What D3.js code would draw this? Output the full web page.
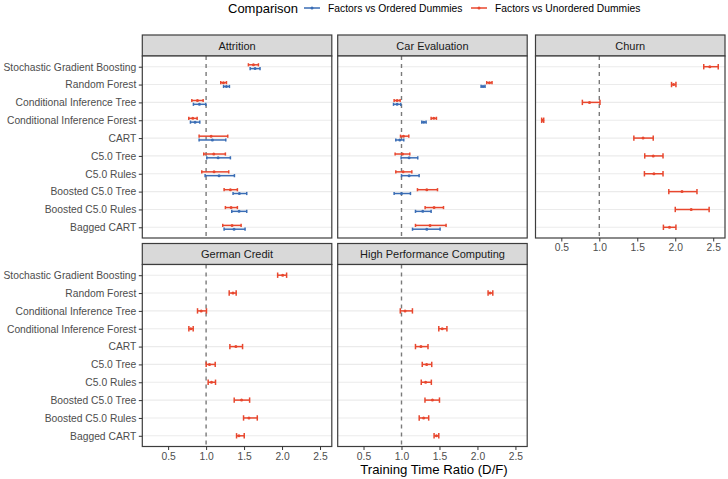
<!DOCTYPE html>
<html>
<head>
<meta charset="utf-8">
<script src="https://cdn.jsdelivr.net/npm/d3@7"></script>
<style>
  body { margin: 0; background: #fff; }
  svg { font-family: "Liberation Sans", Arial, Helvetica, sans-serif; }
</style>
</head>
<body>
<svg id="chart" width="728" height="479"></svg>
<script>
// models, top to bottom
const models = ["Stochastic Gradient Boosting", "Random Forest", "Conditional Inference Tree",
  "Conditional Inference Forest", "CART", "C5.0 Tree", "C5.0 Rules", "Boosted C5.0 Tree",
  "Boosted C5.0 Rules", "Bagged CART"];
const datasets = ["Attrition", "Car Evaluation", "Churn", "German Credit", "High Performance Computing"];
const comparisons = ["Factors vs Ordered Dummies", "Factors vs Unordered Dummies"];
const xTicks = [0.5, 1.0, 1.5, 2.0, 2.5];

// [lower, estimate, upper] per model; null = not available
const attritionOrdered = [[1.58,1.645,1.71],[1.23,1.268,1.307],[0.833,0.912,0.996],[0.794,0.855,0.917],[0.908,1.083,1.259],
  [1.009,1.158,1.32],[0.987,1.171,1.373],[1.355,1.438,1.535],[1.338,1.434,1.535],[1.237,1.368,1.513]];
const attritionUnordered = [[1.557,1.623,1.689],[1.193,1.228,1.268],[0.812,0.886,0.961],[0.772,0.825,0.882],[0.908,1.066,1.285],
  [0.969,1.101,1.254],[0.943,1.105,1.298],[1.237,1.32,1.412],[1.254,1.329,1.412],[1.219,1.342,1.461]];
const carOrdered = [null,[2.048,2.074,2.1],[0.895,0.942,0.991],[1.267,1.293,1.324],[0.925,0.978,1.03],
  [0.995,1.1,1.214],[1.0,1.1,1.232],[0.903,1.0,1.118],[1.184,1.28,1.39],[1.145,1.333,1.508]];
const carUnordered = [null,[2.122,2.158,2.192],[0.903,0.942,0.982],[1.39,1.425,1.46],[0.987,1.026,1.096],
  [0.916,1.013,1.109],[0.925,1.021,1.136],[1.21,1.333,1.474],[1.311,1.429,1.553],[1.184,1.376,1.587]];
const churnUnordered = [[2.375,2.455,2.566],[1.951,1.978,2.009],[0.777,0.871,1.009],[0.241,0.254,0.268],[1.455,1.576,1.71],
  [1.598,1.71,1.839],[1.594,1.719,1.839],[1.915,2.089,2.286],[2.0,2.21,2.446],[1.844,1.924,2.009]];
const germanUnordered = [[1.942,2.008,2.06],[1.304,1.353,1.396],[0.887,0.935,1.005],[0.773,0.799,0.83],[1.313,1.392,1.48],
  [1.001,1.045,1.12],[1.027,1.071,1.124],[1.37,1.467,1.573],[1.493,1.564,1.674],[1.401,1.432,1.502]];
const hpcUnordered = [null,[2.14,2.167,2.202],[0.984,1.047,1.144],[1.491,1.536,1.598],[1.184,1.256,1.349],
  [1.273,1.331,1.398],[1.26,1.318,1.393],[1.309,1.407,1.5],[1.233,1.291,1.358],[1.429,1.46,1.491]];

const seriesByDataset = {
  "Attrition": [attritionOrdered, attritionUnordered],
  "Car Evaluation": [carOrdered, carUnordered],
  "Churn": [null, churnUnordered],
  "German Credit": [null, germanUnordered],
  "High Performance Computing": [null, hpcUnordered]
};

const colors = d3.scaleOrdinal().domain(comparisons).range(["#3A6DB5", "#E8472E"]);

const svg = d3.select("#chart");
const panelW = 189.5, stripH = 21, panelH = 182;
const colX = [142.3, 337.7, 535.5];
const rowY = [35, 243.5];

const x = d3.scaleLinear().domain([0.16, 2.655]).range([0, panelW]);
const y = d3.scalePoint().domain(models).range([0, panelH]).padding(0.6);

datasets.forEach((name, i) => {
  const col = i < 3 ? i : i - 3;
  const row = i < 3 ? 0 : 1;
  const g = svg.append("g").attr("transform", `translate(${colX[col]},${rowY[row]})`);

  // strip
  g.append("rect").attr("width", panelW).attr("height", stripH)
    .attr("fill", "#D9D9D9").attr("stroke", "#3d3d3d").attr("stroke-width", 1.2);
  g.append("text").attr("x", panelW / 2).attr("y", stripH / 2 + 4)
    .attr("text-anchor", "middle").attr("font-size", 11).attr("fill", "#1a1a1a").text(name);

  const p = g.append("g").attr("transform", `translate(0,${stripH})`);
  p.append("rect").attr("width", panelW).attr("height", panelH).attr("fill", "#fff");

  // horizontal grid
  p.selectAll(".grid").data(models).join("line")
    .attr("x1", 0).attr("x2", panelW)
    .attr("y1", d => y(d)).attr("y2", d => y(d))
    .attr("stroke", "#EBEBEB").attr("stroke-width", 1.1);

  // reference line at 1
  p.append("line").attr("x1", x(1)).attr("x2", x(1)).attr("y1", 0).attr("y2", panelH)
    .attr("stroke", "#7a7a7a").attr("stroke-width", 1.4).attr("stroke-dasharray", "4,4");

  const series = seriesByDataset[name];
  const nSeries = series.filter(s => s).length;
  series.forEach((vals, si) => {
    if (!vals) return;
    const col = colors(comparisons[si]);
    const off = nSeries === 2 ? (si === 0 ? 1.9 : -1.9) : 0;
    const cap = nSeries === 2 ? 1.6 : 2.7;
    const pts = models.map((m, k) => ({m, v: vals[k]})).filter(d => d.v);
    const gg = p.append("g").selectAll("g").data(pts).join("g")
      .attr("transform", d => `translate(0,${y(d.m) + off})`);
    gg.append("line").attr("x1", d => x(d.v[0])).attr("x2", d => x(d.v[2]))
      .attr("stroke", col).attr("stroke-width", 1.5);
    gg.append("line").attr("x1", d => x(d.v[0])).attr("x2", d => x(d.v[0]))
      .attr("y1", -cap).attr("y2", cap).attr("stroke", col).attr("stroke-width", 1.5);
    gg.append("line").attr("x1", d => x(d.v[2])).attr("x2", d => x(d.v[2]))
      .attr("y1", -cap).attr("y2", cap).attr("stroke", col).attr("stroke-width", 1.5);
    gg.append("circle").attr("cx", d => x(d.v[1])).attr("r", 1.5).attr("fill", col);
  });

  p.append("rect").attr("width", panelW).attr("height", panelH)
    .attr("fill", "none").attr("stroke", "#3d3d3d").attr("stroke-width", 1.2);

  // y axis on first column
  if (col === 0) {
    const ya = p.append("g").call(d3.axisLeft(y).tickSize(3.5).tickPadding(2.5));
    ya.select(".domain").remove();
    ya.selectAll("line").attr("stroke", "#333");
    ya.selectAll("text").attr("font-size", 10.3).attr("fill", "#4d4d4d")
      .attr("font-family", "Liberation Sans, Arial, sans-serif");
  }
  // x axis on bottom panel of each column
  if (row === 1 || col === 2) {
    const xa = p.append("g").attr("transform", `translate(0,${panelH})`)
      .call(d3.axisBottom(x).tickValues(xTicks).tickFormat(d3.format(".1f")).tickSize(3.5).tickPadding(2.5));
    xa.select(".domain").remove();
    xa.selectAll("line").attr("stroke", "#333");
    xa.selectAll("text").attr("font-size", 10.3).attr("fill", "#4d4d4d")
      .attr("font-family", "Liberation Sans, Arial, sans-serif");
  }
});

// axis title
svg.append("text").attr("x", 434).attr("y", 474).attr("text-anchor", "middle")
  .attr("font-size", 13.2).attr("fill", "#000").text("Training Time Ratio (D/F)");

// legend
const lg = svg.append("g");
lg.append("text").attr("x", 228).attr("y", 13).attr("font-size", 13).attr("fill", "#000").text("Comparison");
const legX = [304, 471];
comparisons.forEach((c, i) => {
  const k = lg.append("g").attr("transform", `translate(${legX[i]},8)`);
  k.append("line").attr("x1", 0).attr("x2", 16).attr("stroke", colors(c)).attr("stroke-width", 1.5);
  k.append("circle").attr("cx", 8).attr("r", 1.5).attr("fill", colors(c));
  k.append("text").attr("x", 24).attr("y", 4).attr("font-size", 10.3).attr("fill", "#000").text(c);
});
</script>
</body>
</html>
